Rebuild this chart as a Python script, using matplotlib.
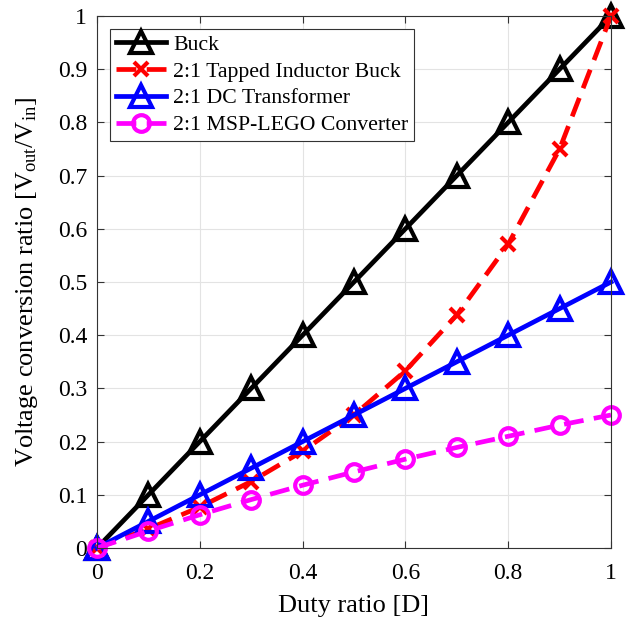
import matplotlib
matplotlib.use('Agg')
import matplotlib.pyplot as plt

duty = [0, 0.1, 0.2, 0.3, 0.4, 0.5, 0.6, 0.7, 0.8, 0.9, 1.0]
buck = [0, 0.1, 0.2, 0.3, 0.4, 0.5, 0.6, 0.7, 0.8, 0.9, 1.0]
tapped = [0, 0.036, 0.077, 0.125, 0.182, 0.25, 0.333, 0.438, 0.571, 0.75, 1.0]
dc_transformer = [0, 0.05, 0.1, 0.15, 0.2, 0.25, 0.3, 0.35, 0.4, 0.45, 0.5]
msp_lego = [0, 0.032, 0.0625, 0.091, 0.118, 0.143, 0.167, 0.189, 0.21, 0.231, 0.25]

labels = ['Buck', '2:1 Tapped Inductor Buck', '2:1 DC Transformer', '2:1 MSP-LEGO Converter']

plt.rcParams['font.family'] = ['Liberation Serif', 'DejaVu Serif']
plt.rcParams['mathtext.fontset'] = 'custom'
plt.rcParams['mathtext.rm'] = 'Liberation Serif'
plt.rcParams['mathtext.it'] = 'Liberation Serif:italic'

fig = plt.figure(figsize=(6.41, 6.24), dpi=100)
ax = fig.add_axes([97/641, 76/624, 514/641, 532/624])

common = dict(lw=3.4, mew=3.0, clip_on=False)
dash = (4.2, 2.2)
ax.plot(duty, buck, '-', color='black', marker='^', ms=16, mfc='none', label=labels[0], **common)
ax.plot(duty, tapped, '--', color='red', marker='x', ms=10, dashes=dash, label=labels[1], **common)
ax.plot(duty, dc_transformer, '-', color='blue', marker='^', ms=16, mfc='none', label=labels[2], **common)
ax.plot(duty, msp_lego, '--', color='magenta', marker='o', ms=12, mfc='none', dashes=dash, label=labels[3], **common)

ax.set_xlim(0, 1)
ax.set_ylim(0, 1)
ax.set_xticks([0, 0.2, 0.4, 0.6, 0.8, 1])
ax.set_xticklabels(['0', '0.2', '0.4', '0.6', '0.8', '1'])
ax.set_yticks([i / 10 for i in range(11)])
ax.set_yticklabels(['0', '0.1', '0.2', '0.3', '0.4', '0.5', '0.6', '0.7', '0.8', '0.9', '1'])
ax.grid(True, color='#e3e3e3', lw=0.8)
ax.set_axisbelow(True)
ax.tick_params(direction='in', top=True, right=True, labelsize=17, length=5, color='#333333')
ax.tick_params(axis='x', pad=11)
ax.tick_params(axis='y', pad=7)
for s in ax.spines.values():
    s.set_color('#333333')
    s.set_linewidth(0.8)

ax.set_xlabel('Duty ratio [D]', fontsize=19, labelpad=8)
ax.set_ylabel(r'Voltage conversion ratio [V$_{\rm out}$/V$_{\rm in}$]', fontsize=19, labelpad=13)

leg = ax.legend(loc='upper left', fontsize=15.7, fancybox=False, framealpha=1,
                edgecolor='#333333', handlelength=2.3, borderpad=0.25, labelspacing=0.3,
                handletextpad=0.35, borderaxespad=0.6)
leg.get_frame().set_linewidth(0.8)

fig.savefig('out.png', dpi=100)
